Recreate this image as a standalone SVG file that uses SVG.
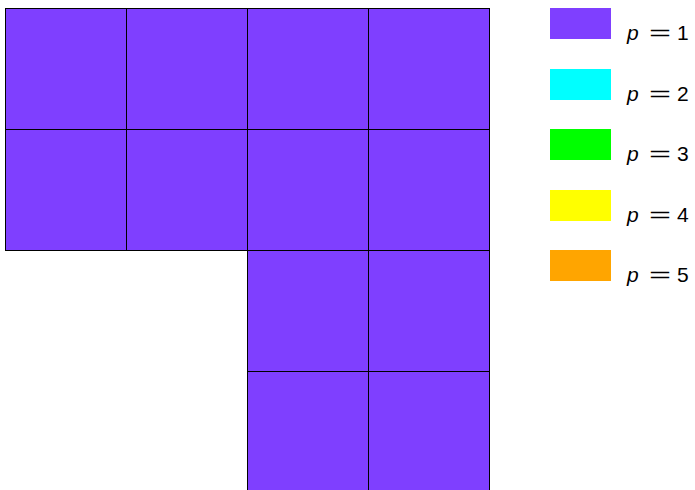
<svg xmlns="http://www.w3.org/2000/svg" width="695" height="490" viewBox="0 0 695 490">
<style>
.cell{fill:#7f3fff;stroke:#000;stroke-width:1}
.sw{stroke:none}
.lbl{font-family:"Liberation Sans",Arial,sans-serif;font-size:21px;fill:#000}
.it{font-style:italic}
</style>
<rect width="695" height="490" fill="#fff"/>
<g id="grid">
<rect class="cell" x="5.5" y="8.5" width="121" height="121"/>
<rect class="cell" x="126.5" y="8.5" width="121" height="121"/>
<rect class="cell" x="247.5" y="8.5" width="121" height="121"/>
<rect class="cell" x="368.5" y="8.5" width="121" height="121"/>
<rect class="cell" x="5.5" y="129.5" width="121" height="121"/>
<rect class="cell" x="126.5" y="129.5" width="121" height="121"/>
<rect class="cell" x="247.5" y="129.5" width="121" height="121"/>
<rect class="cell" x="368.5" y="129.5" width="121" height="121"/>
<rect class="cell" x="247.5" y="250.5" width="121" height="121"/>
<rect class="cell" x="368.5" y="250.5" width="121" height="121"/>
<rect class="cell" x="247.5" y="371.5" width="121" height="121"/>
<rect class="cell" x="368.5" y="371.5" width="121" height="121"/>
</g>
<g id="legend">
<g id="leg1"><rect class="sw" x="550" y="8" width="61" height="31" fill="#7f3fff"/><text class="lbl it" x="627" y="40">p</text><text class="lbl" x="649" y="40" textLength="22" lengthAdjust="spacingAndGlyphs">=</text><text class="lbl" x="677" y="40">1</text></g>
<g id="leg2"><rect class="sw" x="550" y="69" width="61" height="31" fill="#00ffff"/><text class="lbl it" x="627" y="101">p</text><text class="lbl" x="649" y="101" textLength="22" lengthAdjust="spacingAndGlyphs">=</text><text class="lbl" x="677" y="101">2</text></g>
<g id="leg3"><rect class="sw" x="550" y="129" width="61" height="31" fill="#00ff00"/><text class="lbl it" x="627" y="161">p</text><text class="lbl" x="649" y="161" textLength="22" lengthAdjust="spacingAndGlyphs">=</text><text class="lbl" x="677" y="161">3</text></g>
<g id="leg4"><rect class="sw" x="550" y="190" width="61" height="31" fill="#ffff00"/><text class="lbl it" x="627" y="222">p</text><text class="lbl" x="649" y="222" textLength="22" lengthAdjust="spacingAndGlyphs">=</text><text class="lbl" x="677" y="222">4</text></g>
<g id="leg5"><rect class="sw" x="550" y="250" width="61" height="31" fill="#ffa500"/><text class="lbl it" x="627" y="282">p</text><text class="lbl" x="649" y="282" textLength="22" lengthAdjust="spacingAndGlyphs">=</text><text class="lbl" x="677" y="282">5</text></g>
</g>
</svg>
